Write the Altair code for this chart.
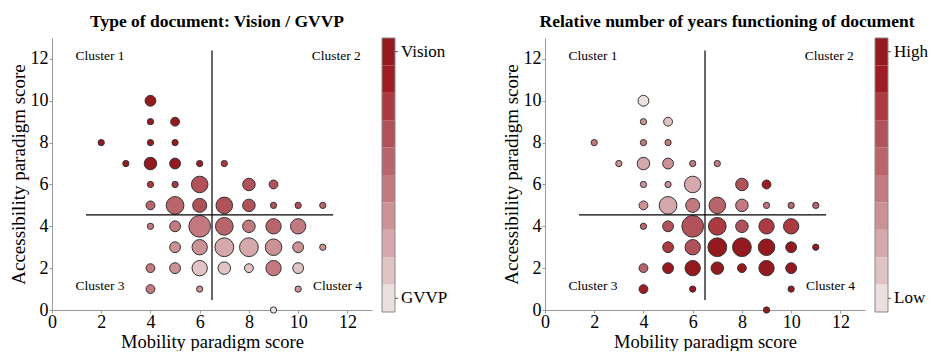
import altair as alt
import pandas as pd

# ---- data ----
mobility = [4, 4, 5, 2, 4, 5, 3, 4, 5, 6, 7, 4, 5, 6, 8, 9,
            4, 5, 6, 7, 8, 9, 10, 11, 4, 5, 6, 7, 8, 9, 10,
            5, 6, 7, 8, 9, 10, 11, 4, 5, 6, 7, 8, 9, 10, 4, 6, 10, 9]
accessibility = [10, 9, 9, 8, 8, 8, 7, 7, 7, 7, 7, 6, 6, 6, 6, 6,
                 5, 5, 5, 5, 5, 5, 5, 5, 4, 4, 4, 4, 4, 4, 4,
                 3, 3, 3, 3, 3, 3, 3, 2, 2, 2, 2, 2, 2, 2, 1, 1, 1, 0]
documents = [3, 1, 2, 1, 1, 1, 1, 4, 3, 1, 1, 1, 1, 7, 4, 2,
             2, 8, 5, 7, 4, 1, 1, 1, 1, 3, 12, 8, 4, 6, 6,
             3, 6, 9, 9, 7, 3, 1, 2, 3, 6, 4, 2, 6, 3, 2, 1, 1, 1]
vision_level = [10, 10, 10, 10, 10, 10, 10, 10, 10, 9, 8, 8, 8, 7, 7, 7,
                6, 6, 7, 7, 7, 7, 7, 6, 5, 5, 5, 6, 5, 6, 5,
                4, 4, 3, 3, 4, 4, 4, 5, 4, 2, 2, 2, 5, 2, 5, 4, 4, 1]
years_level = [1, 4, 2, 5, 5, 5, 4, 3, 4, 5, 5, 4, 4, 3, 7, 9,
               4, 3, 5, 6, 5, 5, 6, 6, 6, 7, 7, 8, 7, 8, 8,
               8, 7, 10, 10, 10, 10, 10, 6, 10, 10, 10, 10, 10, 10, 9, 10, 10, 10]

levels = [1, 2, 3, 4, 5, 6, 7, 8, 9, 10]
palette = ["#ebdfe0", "#e0c3c5", "#d5a9ac", "#cb9296", "#c27a80",
           "#b9656c", "#b1525a", "#ab3a41", "#9e1c23", "#951a1f"]

legend_vision = ["Vision", "GVVP"]
legend_years = ["High", "Low"]
legend_pos = [9.5, 0.5]

cluster_names = ["Cluster 1", "Cluster 2", "Cluster 3", "Cluster 4"]
cluster_x = [1.95, 11.55, 1.95, 11.6]
cluster_y = [12.15, 12.15, 1.15, 1.15]

vline = {"x": [6.5], "y": [0.48], "y2": [12.4]}
hline = {"x": [1.38], "x2": [11.42], "y": [4.55]}

x_ticks = [0, 2, 4, 6, 8, 10, 12]
y_ticks = [0, 2, 4, 6, 8, 10, 12]

FONT = "Liberation Serif"

points = pd.DataFrame({"x": mobility, "y": accessibility, "docs": documents,
                       "vision": vision_level, "years": years_level})
clusters = pd.DataFrame({"x": cluster_x, "y": cluster_y, "label": cluster_names})
vdf = pd.DataFrame(vline)
hdf = pd.DataFrame(hline)


def xenc():
    return alt.X("x:Q", scale=alt.Scale(domain=[0, 13], nice=False, zero=False),
                 axis=alt.Axis(values=x_ticks, title="Mobility paradigm score", grid=False,
                               format="d", labelFlush=False, labelOverlap=False,
                               labelPadding=0, titlePadding=1, titleFontSize=18.5))


def yenc():
    return alt.Y("y:Q", scale=alt.Scale(domain=[0, 13], nice=False, zero=False),
                 axis=alt.Axis(values=y_ticks, title="Accessibility paradigm score", grid=False,
                               format="d", labelFlush=False, labelOverlap=False))


color_scale = alt.Scale(domain=levels, range=palette)


def panel(field, title, dx):
    pts = alt.Chart(points).mark_circle(opacity=1, stroke="#333333", strokeWidth=1).encode(
        x=xenc(), y=yenc(),
        size=alt.Size("docs:Q", scale=alt.Scale(domain=[0, 12], range=[0, 470]), legend=None),
        color=alt.Color(field + ":O", scale=color_scale, legend=None),
        order=alt.Order("docs:Q", sort="descending"),
    )
    v = alt.Chart(vdf).mark_rule(color="black", strokeWidth=1.2).encode(
        x=xenc(), y=yenc(), y2="y2:Q")
    h = alt.Chart(hdf).mark_rule(color="black", strokeWidth=1.2).encode(
        x=xenc(), x2="x2:Q", y=yenc())
    txt = alt.Chart(clusters).mark_text(font=FONT, fontSize=13.5, color="black").encode(
        x=xenc(), y=yenc(), text="label:N")
    return alt.layer(pts, v, h, txt).properties(
        width=320, height=272,
        title=alt.TitleParams(title, anchor="middle", dx=dx, offset=8,
                              font=FONT, fontSize=17.5, fontWeight="bold", color="black"))


bar_df = pd.DataFrame({"lo": [l - 1 for l in levels], "hi": levels, "level": levels})
frame_df = pd.DataFrame({"lo": [0], "hi": [10]})


def bar_y(field):
    return alt.Y(field, scale=alt.Scale(domain=[0, 10], nice=False, zero=False), axis=None)


def colorbar(labels, width):
    lab_df = pd.DataFrame({"lo": legend_pos, "label": labels})
    bands = alt.Chart(bar_df).mark_rect().encode(
        x=alt.value(0), x2=alt.value(13),
        y=bar_y("lo:Q"), y2="hi:Q",
        color=alt.Color("level:O", scale=color_scale, legend=None),
    )
    border = alt.Chart(frame_df).mark_rect(filled=False, stroke="#888888", strokeWidth=1).encode(
        x=alt.value(0), x2=alt.value(13),
        y=bar_y("lo:Q"), y2="hi:Q",
    )
    ticks = alt.Chart(lab_df).mark_rule(color="#555555", strokeWidth=1).encode(
        x=alt.value(13), x2=alt.value(16),
        y=bar_y("lo:Q"),
    )
    labs = alt.Chart(lab_df).mark_text(font=FONT, fontSize=17, color="black",
                                       align="left", baseline="middle").encode(
        x=alt.value(19),
        y=bar_y("lo:Q"),
        text="label:N",
    )
    return alt.layer(bands, border, ticks, labs).properties(width=width, height=274)


chart = alt.hconcat(
    panel("vision", "Type of document: Vision / GVVP", 5),
    colorbar(legend_vision, 153),
    panel("years", "Relative number of years functioning of document", 22),
    colorbar(legend_years, 56),
    spacing=10, bounds="flush",
).properties(
    padding={"left": 9, "top": 12, "right": 0, "bottom": 0}
).configure_view(stroke=None).configure_axis(
    labelFont=FONT, titleFont=FONT, labelFontSize=18, titleFontSize=19,
    titleFontWeight="normal", labelColor="black", titleColor="black",
    domainColor="#999999", tickColor="#999999", tickSize=3, labelPadding=1,
    titlePadding=2,
)

chart.save("out.html", embed_options={"renderer": "svg", "actions": False})
